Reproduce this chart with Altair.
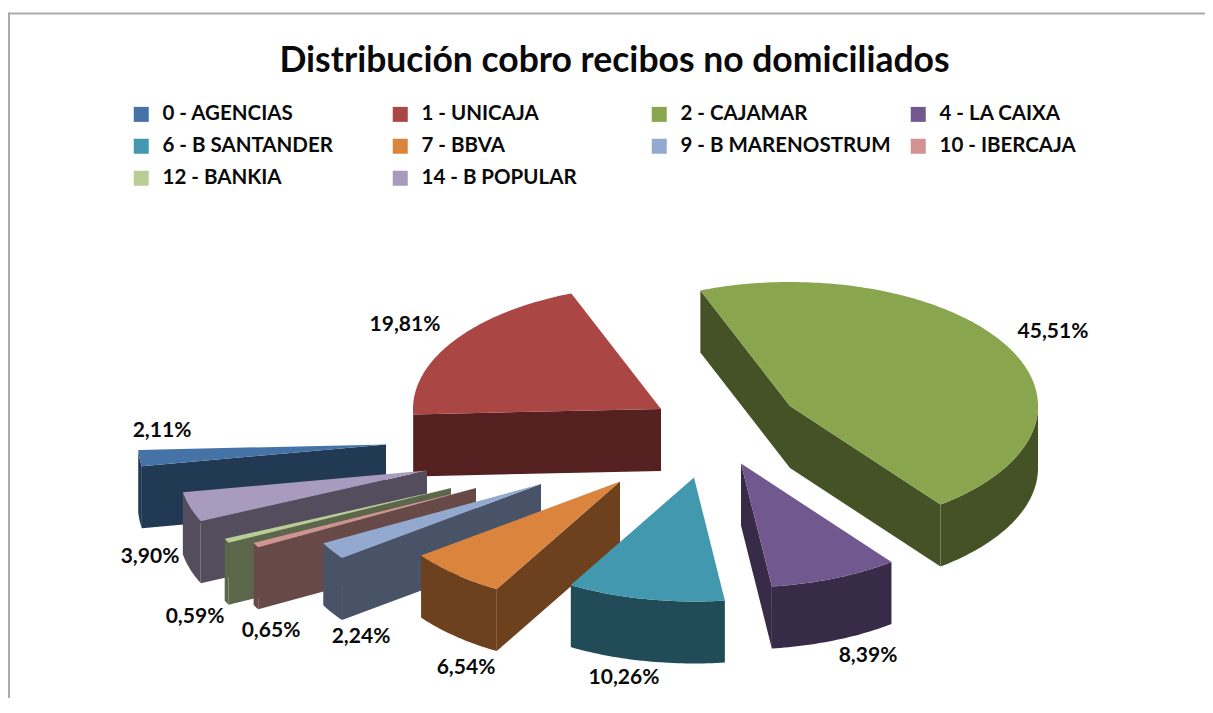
import math
import altair as alt

# Data
categories = ["0 - AGENCIAS", "1 - UNICAJA", "2 - CAJAMAR", "4 - LA CAIXA", "6 - B SANTANDER",
              "7 - BBVA", "9  - B MARENOSTRUM", "10 - IBERCAJA", "12 - BANKIA", "14 - B POPULAR"]
shares = [2.11, 19.81, 45.51, 8.39, 10.26, 6.54, 2.24, 0.65, 0.59, 3.90]
labels = ["2,11%", "19,81%", "45,51%", "8,39%", "10,26%", "6,54%", "2,24%", "0,65%", "0,59%", "3,90%"]
top_colors = ["#4572A7", "#AA4643", "#89A54E", "#71588F", "#4198AF",
              "#DB843D", "#93A9CF", "#D19392", "#B9CD96", "#A99BBD"]
side_colors = ["#223954", "#542120", "#445226", "#382B47", "#204B57",
               "#6D411E", "#485367", "#674948", "#5C664A", "#544D5E"]

# Layout of the exploded pie (page pixels)
APEX = [(386, 444.5), (661, 409), (790, 406), (741, 463.5), (694, 477.5),
        (620, 481.5), (541, 484), (476, 488), (451, 488), (427, 470.5)]
LABEL_AT = [(162, 431), (405, 325), (1053, 332), (868, 656), (624, 678),
            (466, 668), (361, 637), (271, 631), (195, 617), (150, 557)]
RX, RY, DEPTH = 248, 124, 62
START = -190.1
PAINT_ORDER = [1, 2, 0, 9, 8, 7, 6, 5, 4, 3]
TOP = 72
W, H = 1197, 690 - TOP

spans = []
a = START
for s in shares:
    spans.append((a, a + s * 3.6))
    a += s * 3.6


def feature(key, ring):
    ring = [list(p) for p in ring]
    if ring[0] != ring[-1]:
        ring.append(ring[0])
    return {"type": "Feature", "properties": {"key": key},
            "geometry": {"type": "Polygon", "coordinates": [ring]}}


def drop(points):
    return [(x, y + DEPTH) for x, y in points]


features = []
for i in PAINT_ORDER:
    ax, ay = APEX[i]
    t0, t1 = spans[i]
    n = max(2, int(t1 - t0) + 1)
    arc = []
    for k in range(n + 1):
        t = math.radians(t0 + (t1 - t0) * k / n)
        arc.append((ax + RX * math.cos(t), ay + RY * math.sin(t)))
    side = "side " + categories[i]
    # walls facing the viewer
    if arc[0][0] < ax:
        features.append(feature(side, [(ax, ay), arc[0], *drop([arc[0], (ax, ay)])]))
    if arc[-1][0] > ax:
        features.append(feature(side, [arc[-1], (ax, ay), *drop([(ax, ay), arc[-1]])]))
    rim = []
    for k in range(n):
        if arc[k + 1][0] < arc[k][0]:
            if not rim:
                rim.append(arc[k])
            rim.append(arc[k + 1])
    if len(rim) > 1:
        features.append(feature(side, rim + drop(rim)[::-1]))
    features.append(feature(categories[i], [(ax, ay), *arc]))

domain = categories + ["side " + c for c in categories]
palette = top_colors + side_colors
proj = dict(type="identity", scale=1, translate=[-8, -8 - TOP])

pie = alt.Chart(alt.Data(values=features)).mark_geoshape(stroke=None).encode(
    color=alt.Color(
        "properties.key:N",
        scale=alt.Scale(domain=domain, range=palette),
        legend=alt.Legend(
            title=None, values=categories, orient="none", columns=4, direction="horizontal",
            legendX=123, legendY=104 - 8 - TOP, padding=0,
            gridAlign="all", columnPadding=12, rowPadding=11,
            symbolType="square", symbolSize=225, symbolStrokeWidth=0,
            labelOffset=11, labelFont="Lato", labelFontWeight="bold",
            labelFontSize=20.5, labelColor="#0A0A0A", labelLimit=400,
        ),
    )
).project(**proj)

text = alt.Chart(alt.Data(values=[
    {"lon": p[0], "lat": p[1], "label": l} for p, l in zip(LABEL_AT, labels)
])).mark_text(font="Lato", fontWeight="bold", fontSize=21, color="#0A0A0A").encode(
    longitude="lon:Q", latitude="lat:Q", text="label:N"
).project(**proj)

frame_top = alt.Chart(alt.Data(values=[{}])).mark_rule(color="#ABABAB", strokeWidth=2).encode(
    x=alt.value(0), x2=alt.value(W), y=alt.value(13.5 - 8 - TOP))
frame_left = alt.Chart(alt.Data(values=[{}])).mark_rule(color="#ABABAB", strokeWidth=2).encode(
    x=alt.value(1), y=alt.value(12.5 - 8 - TOP), y2=alt.value(H))

chart = alt.layer(frame_top, frame_left, pie, text).properties(
    width=W, height=H,
    padding={"left": 0, "top": TOP, "right": 0, "bottom": 0},
    autosize=alt.AutoSizeParams(type="none"),
    background="white",
    title=alt.TitleParams(
        "Distribución cobro recibos no domiciliados", font="Lato", fontWeight="bold",
        fontSize=35.5, color="#0A0A0A", anchor="middle", offset=0, dy=68, dx=8,
    ),
).configure_view(stroke=None)

chart.save("out.html", embed_options={"renderer": "svg", "actions": False})
